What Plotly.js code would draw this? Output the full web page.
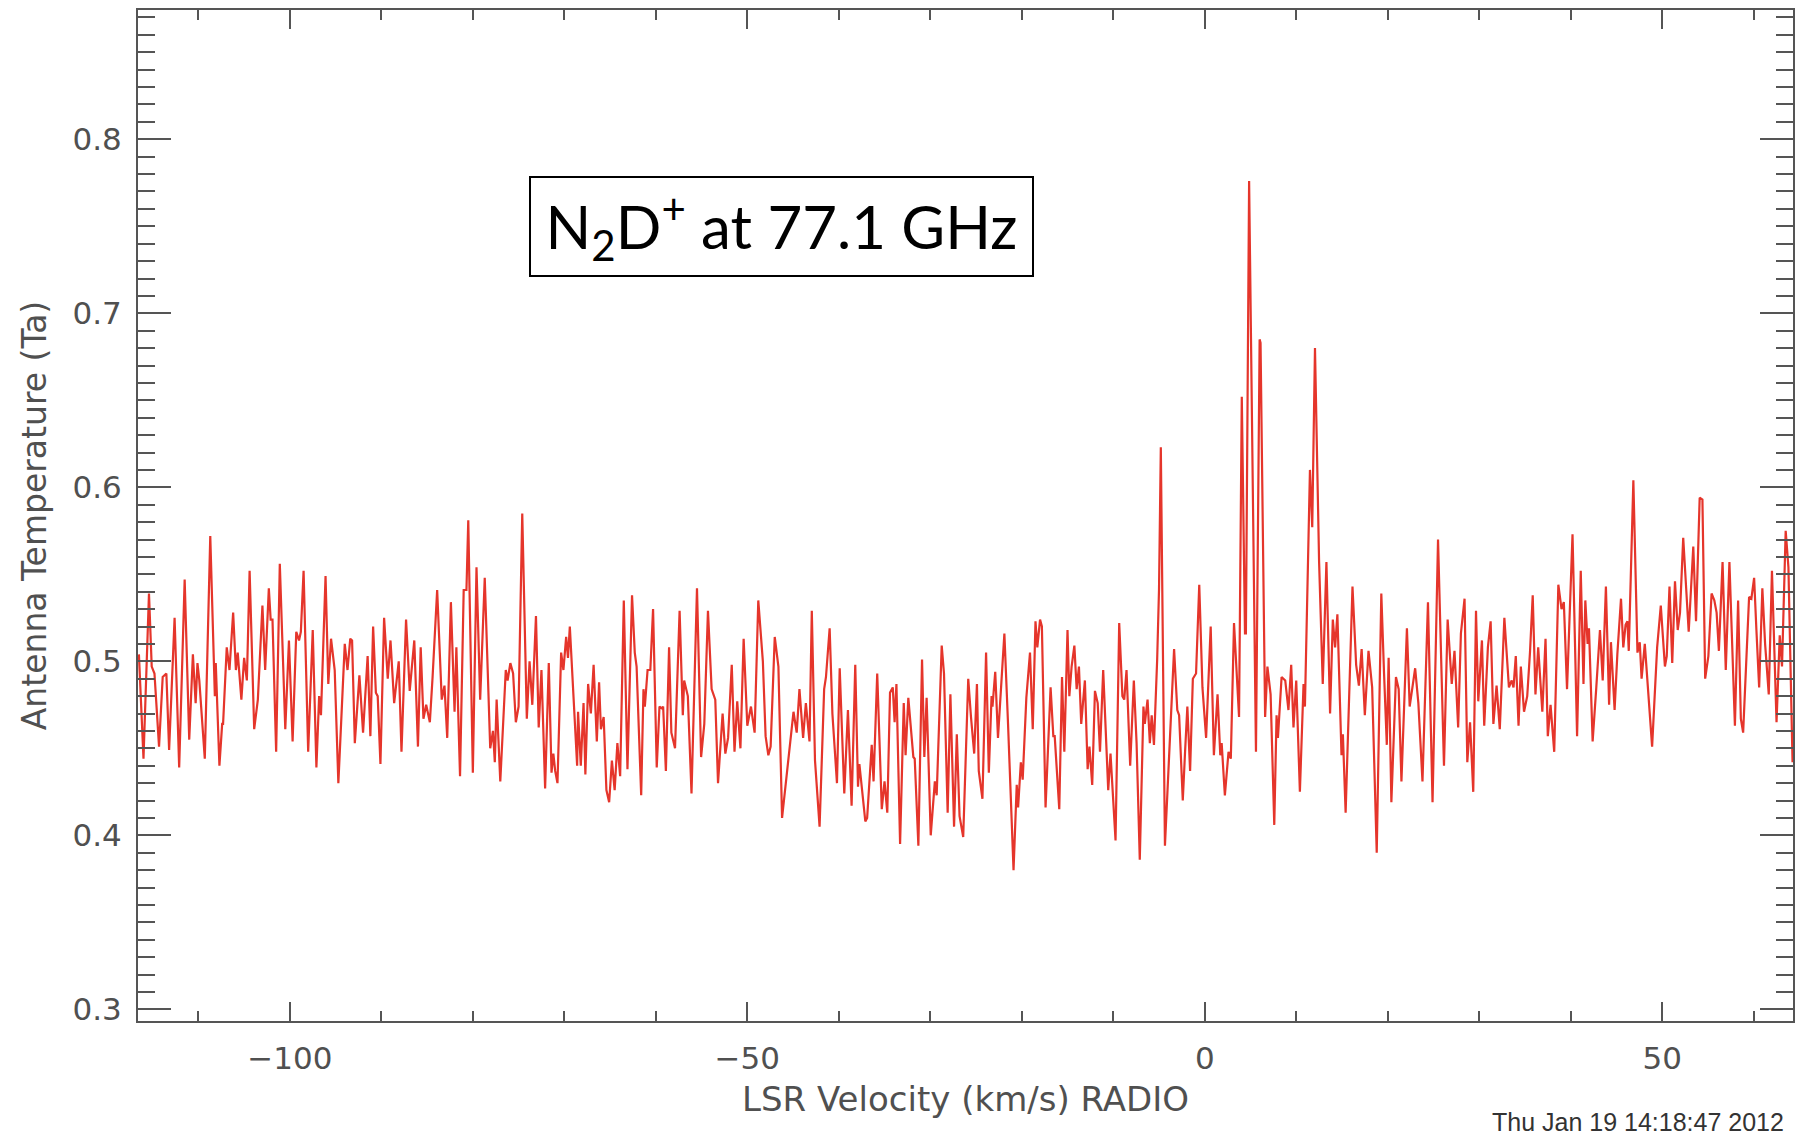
<!DOCTYPE html>
<html>
<head>
<meta charset="utf-8">
<script src="https://cdn.plot.ly/plotly-3.0.1.min.js"></script>
<style>
html,body{margin:0;padding:0;background:#fff;}
#chart{width:1799px;height:1142px;}
</style>
</head>
<body>
<div id="chart"></div>
<script>
// LSR velocity (km/s) of each read point
const velocity = [
-116.5,-116.0,-115.4,-115.1,-114.8,-114.3,-113.9,-113.5,-113.2,-112.6,-112.1,-111.5,-111.0,-110.6,-110.3,-110.1,-109.9,-109.3,-108.7,-108.2,
-108.1,-107.7,-107.4,-107.3,-106.9,-106.6,-106.2,-105.9,-105.7,-105.3,-105.0,-104.7,-104.4,-103.9,-103.5,-103.0,-102.7,-102.3,-102.1,-101.9,
-101.5,-101.1,-100.5,-100.1,-99.7,-99.3,-99.0,-98.8,-98.5,-98.0,-97.5,-97.1,-96.8,-96.6,-96.1,-95.8,-95.5,-95.1,-94.7,
-94.0,-93.7,-93.4,-93.2,-92.9,-92.4,-92.0,-91.5,-91.2,-90.9,-90.6,-90.4,-90.1,-89.7,-89.3,-89.0,-88.6,-88.1,-87.8,-87.3,
-86.9,-86.4,-86.0,-85.7,-85.4,-85.1,-84.7,-84.4,-83.9,-83.4,-83.1,-82.8,-82.4,-82.0,-81.8,-81.4,-81.0,-80.7,-80.5,-80.0,
-79.6,-79.2,-78.7,-78.1,-77.8,-77.6,-77.4,-77.0,-76.4,-76.2,-75.9,-75.6,-75.3,-75.0,-74.6,-74.1,-73.8,-73.5,-73.1,-72.8,
-72.5,-72.1,-71.7,
-71.4,-71.2,-71.0,-70.75,-70.35,-70.1,-69.8,-69.6,-69.4,-69.0,-68.6,-68.5,-68.2,-67.9,-67.7,-67.4,-67.1,-66.8,-66.45,-66.2,
-66.0,-65.7,-65.4,-65.1,-64.8,-64.5,-64.2,-63.9,-63.5,-63.1,-62.6,-62.3,-62.1,-61.6,-61.35,-61.2,-60.9,-60.6,-60.3,-59.9,
-59.6,-59.35,-59.2,-58.9,-58.55,-58.3,-57.9,-57.4,-57.05,-56.9,-56.5,-56.1,-55.5,-55.05,-54.7,-54.3,-53.9,-53.5,-53.2,-52.7,
-52.4,-52.1,-51.7,-51.4,-51.1,-50.75,-50.4,-50.0,-49.6,-49.2,
-48.8,-48.3,-48.0,-47.7,-47.45,-47.0,-46.6,-46.2,-45.9,-45.4,-44.95,-44.6,-44.3,-43.9,-43.6,-43.2,-42.95,-42.6,-42.1,-41.6,
-41.4,-41.0,-40.7,-40.2,-39.9,-39.4,-39.0,-38.6,-38.2,-37.9,-37.75,-37.1,-36.9,-36.4,-36.2,-35.8,-35.3,-35.0,-34.7,-34.4,
-34.1,-33.9,-33.7,-33.3,-32.9,-32.7,-32.4,-31.85,-31.7,-31.3,-30.9,-30.65,-30.4,-29.95,-29.5,-29.3,-28.75,-28.5,-28.1,-27.8,
-27.4,-27.1,-26.8,
-26.4,-25.85,-25.55,-25.2,-24.9,-24.7,-24.3,-23.9,-23.6,-23.3,-23.2,-22.9,-22.6,-21.9,-21.5,-20.9,-20.55,-20.4,-20.1,-19.9,
-19.5,-19.1,-18.8,-18.5,-18.3,-18.0,-17.8,-17.4,-16.85,-16.55,-16.4,-15.9,-15.6,-15.35,-15.0,-14.8,-14.55,-14.25,-14.0,-13.75,
-13.5,-13.1,-12.8,-12.6,-12.3,-12.0,-11.7,-11.45,-11.1,-10.55,-10.3,-9.75,-9.35,-9.0,-8.8,-8.55,-8.15,-7.75,-7.45,-7.1,
-6.7,-6.55,-6.25,-6.0,-5.8,-5.55,-5.2,-5.0,-4.8,-4.35,
-3.35,-3.0,-2.8,-2.4,-2.15,-1.9,-1.6,-1.3,-0.95,-0.6,-0.25,0.15,0.65,1.0,1.4,1.7,1.85,2.2,2.6,2.85,
3.2,3.75,4.05,4.4,4.5,4.85,5.6,6.0,6.1,6.6,6.85,7.2,7.6,7.85,8.0,8.4,8.8,9.15,9.45,9.7,
10.0,10.4,10.8,10.95,11.5,11.75,12.05,12.5,12.9,13.3,13.7,14.0,14.25,14.5,14.95,15.1,15.4,16.15,16.55,16.85,
17.15,17.5,17.9,
18.3,18.8,19.3,19.6,19.9,20.1,20.4,20.9,21.2,21.5,22.1,22.4,23.0,23.35,23.8,24.4,24.9,25.5,26.15,26.55,
27.0,27.3,27.7,28.0,28.4,28.7,29.0,29.35,29.65,29.9,30.3,30.55,30.95,31.25,31.55,31.9,32.25,32.75,33.25,33.55,
33.75,34.0,34.3,34.55,34.9,35.25,35.55,35.85,36.15,36.45,36.9,37.25,37.5,37.8,38.2,38.65,39.0,39.25,39.6,40.2,
40.7,41.1,41.4,41.6,41.85,42.0,42.4,42.8,43.2,43.5,43.85,44.2,44.4,44.8,45.1,45.5,45.75,46.0,46.2,46.35,
46.85,47.3,47.55,47.75,48.1,48.9,49.45,49.85,50.3,50.5,50.8,51.1,51.4,51.7,51.95,52.3,52.9,53.4,53.7,54.1,
54.4,54.7,55.05,55.4,55.7,55.95,56.2,56.6,56.95,57.35,57.95,58.3,58.6,58.85,59.5,59.75,60.05,60.3,60.6,60.95,
61.25,61.65,62.0,62.5,62.85,63.1,63.5,63.8,64.25
];

// Antenna temperature (Ta) at each point
const antennaTemp = [
0.504,0.444,0.539,0.497,0.493,0.451,0.491,0.493,0.449,0.525,0.439,0.547,0.455,0.504,0.476,0.499,0.489,0.444,0.572,0.480,
0.499,0.440,0.464,0.464,0.508,0.495,0.528,0.495,0.505,0.478,0.502,0.489,0.552,0.461,0.478,0.532,0.495,0.542,0.524,0.524,
0.448,0.556,0.461,0.512,0.454,0.517,0.512,0.517,0.552,0.448,0.518,0.439,0.480,0.469,0.549,0.487,0.513,0.495,0.430,
0.510,0.495,0.513,0.512,0.453,0.492,0.459,0.503,0.457,0.520,0.482,0.480,0.441,0.525,0.490,0.512,0.476,0.500,0.448,0.524,
0.483,0.512,0.451,0.508,0.467,0.475,0.465,0.491,0.541,0.478,0.486,0.456,0.534,0.471,0.508,0.434,0.541,0.541,0.581,0.436,
0.554,0.478,0.548,0.450,0.460,0.442,0.478,0.431,0.495,0.489,0.499,0.493,0.465,0.474,0.585,0.467,0.500,0.475,0.526,0.462,
0.495,0.427,0.499,
0.436,0.447,0.437,0.430,0.505,0.495,0.514,0.502,0.520,0.478,0.440,0.471,0.440,0.476,0.435,0.487,0.470,0.498,0.454,0.488,
0.461,0.468,0.426,0.419,0.443,0.426,0.453,0.434,0.535,0.438,0.538,0.505,0.497,0.423,0.484,0.474,0.495,0.495,0.530,0.439,
0.474,0.473,0.474,0.437,0.508,0.459,0.450,0.529,0.469,0.489,0.480,0.424,0.542,0.445,0.464,0.529,0.484,0.478,0.430,0.470,
0.447,0.456,0.498,0.448,0.477,0.450,0.513,0.463,0.474,0.459,
0.535,0.500,0.457,0.446,0.451,0.514,0.497,0.410,0.425,0.446,0.471,0.459,0.484,0.456,0.476,0.454,0.529,0.443,0.405,0.484,
0.491,0.519,0.470,0.430,0.496,0.424,0.472,0.417,0.498,0.428,0.441,0.408,0.410,0.452,0.431,0.493,0.415,0.431,0.413,0.482,
0.485,0.465,0.487,0.395,0.476,0.446,0.479,0.445,0.444,0.394,0.501,0.445,0.479,0.400,0.431,0.423,0.509,0.493,0.413,0.481,
0.405,0.458,0.411,
0.399,0.490,0.468,0.447,0.487,0.437,0.421,0.505,0.436,0.480,0.474,0.494,0.456,0.516,0.464,0.380,0.429,0.416,0.442,0.432,
0.479,0.505,0.461,0.523,0.508,0.524,0.520,0.416,0.485,0.457,0.457,0.415,0.491,0.448,0.518,0.480,0.497,0.509,0.484,0.497,
0.464,0.489,0.438,0.451,0.429,0.483,0.476,0.448,0.495,0.426,0.447,0.397,0.522,0.480,0.478,0.495,0.440,0.489,0.453,0.386,
0.474,0.464,0.478,0.453,0.469,0.452,0.501,0.541,0.623,0.394,
0.507,0.472,0.469,0.420,0.448,0.474,0.437,0.490,0.493,0.544,0.485,0.456,0.520,0.446,0.481,0.446,0.453,0.423,0.448,0.444,
0.522,0.468,0.652,0.516,0.516,0.776,0.448,0.685,0.683,0.468,0.497,0.481,0.406,0.469,0.456,0.491,0.489,0.472,0.498,0.462,
0.489,0.425,0.487,0.474,0.610,0.577,0.680,0.557,0.487,0.557,0.470,0.524,0.508,0.527,0.446,0.458,0.413,0.543,0.498,0.486,
0.507,0.469,0.506,
0.485,0.390,0.539,0.493,0.452,0.502,0.419,0.491,0.484,0.431,0.519,0.474,0.496,0.476,0.431,0.534,0.419,0.570,0.440,0.524,
0.487,0.506,0.462,0.516,0.536,0.442,0.465,0.425,0.529,0.477,0.512,0.463,0.508,0.523,0.464,0.486,0.461,0.525,0.485,0.489,
0.485,0.503,0.463,0.497,0.471,0.480,0.505,0.538,0.481,0.508,0.471,0.513,0.457,0.475,0.448,0.544,0.530,0.534,0.484,0.573,
0.457,0.552,0.487,0.535,0.510,0.519,0.454,0.485,0.518,0.489,0.543,0.475,0.511,0.472,0.504,0.536,0.508,0.521,0.523,0.506,
0.604,0.505,0.511,0.490,0.510,0.451,0.508,0.532,0.497,0.503,0.543,0.499,0.546,0.518,0.528,0.571,0.517,0.566,0.523,0.594,
0.593,0.490,0.503,0.539,0.535,0.528,0.506,0.557,0.495,0.557,0.463,0.535,0.467,0.459,0.537,0.536,0.548,0.518,0.485,0.542,
0.510,0.481,0.552,0.465,0.515,0.497,0.575,0.554,0.442
];

const xRange = [-116.6, 64.3];
const yRange = [0.2933, 0.8743];
const xTickVals = [-100, -50, 0, 50];
const xTickText = ['\u2212100', '\u221250', '0', '50'];
const yTickVals = [0.3, 0.4, 0.5, 0.6, 0.7, 0.8];
const yTickText = ['0.3', '0.4', '0.5', '0.6', '0.7', '0.8'];
const xTitle = 'LSR Velocity (km/s) RADIO';
const yTitle = 'Antenna Temperature (Ta)';
const lineLabel = 'N<sub>2</sub>D<sup>+</sup> at 77.1 GHz';
const stamp = 'Thu Jan 19 14:18:47 2012';

const axisColor = '#555555';
const textColor = '#505050';
const tickFont = {family: 'DejaVu Sans', size: 31, color: textColor};
const xTitleFont = {family: 'DejaVu Sans', size: 34, color: textColor};
const yTitleFont = {family: 'DejaVu Sans', size: 33, color: textColor};

const trace = {
  type: 'scatter',
  mode: 'lines',
  x: velocity,
  y: antennaTemp,
  line: {color: '#e5352b', width: 2.2},
  hoverinfo: 'x+y'
};

const layout = {
  width: 1799,
  height: 1142,
  margin: {l: 138, r: 6, t: 10, b: 121, pad: 0},
  paper_bgcolor: '#ffffff',
  plot_bgcolor: '#ffffff',
  showlegend: false,
  xaxis: {
    range: xRange,
    tickmode: 'array',
    tickvals: xTickVals,
    ticktext: xTickText,
    ticks: 'inside',
    ticklen: 19,
    tickwidth: 2,
    tickcolor: axisColor,
    showline: true,
    linecolor: axisColor,
    linewidth: 2,
    mirror: 'ticks',
    showgrid: false,
    zeroline: false,
    tickfont: tickFont,
    ticklabelstandoff: 9,
    minor: {tickmode: 'linear', tick0: 0, dtick: 10, ticks: 'inside', ticklen: 10, tickwidth: 2, tickcolor: axisColor, showgrid: false},
    title: {text: xTitle, font: xTitleFont, standoff: 12}
  },
  yaxis: {
    range: yRange,
    tickmode: 'array',
    tickvals: yTickVals,
    ticktext: yTickText,
    ticks: 'inside',
    ticklen: 33,
    tickwidth: 2,
    tickcolor: axisColor,
    showline: true,
    linecolor: axisColor,
    linewidth: 2,
    mirror: 'ticks',
    showgrid: false,
    zeroline: false,
    tickfont: tickFont,
    ticklabelstandoff: 8,
    minor: {tickmode: 'linear', tick0: 0, dtick: 0.01, ticks: 'inside', ticklen: 17, tickwidth: 2, tickcolor: axisColor, showgrid: false},
    title: {text: yTitle, font: yTitleFont, standoff: 16}
  },
  annotations: [
    {
      xref: 'paper', yref: 'paper', x: 0.3888, y: 0.7854,
      xanchor: 'center', yanchor: 'middle',
      text: lineLabel, showarrow: false,
      font: {family: 'Lato', size: 60, color: '#000000'},
      bordercolor: '#000000', borderwidth: 2, borderpad: 0,
      width: 501, height: 97, bgcolor: '#ffffff'
    },
    {
      xref: 'paper', yref: 'paper', x: 0.9958, y: -0.0999,
      xanchor: 'right', yanchor: 'middle',
      text: stamp, showarrow: false,
      font: {family: 'Liberation Sans', size: 25, color: '#333333'}
    }
  ]
};

Plotly.newPlot('chart', [trace], layout, {displayModeBar: false, staticPlot: true});
</script>
</body>
</html>
